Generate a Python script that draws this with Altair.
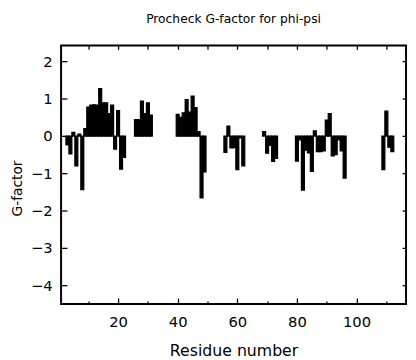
import altair as alt
import pandas as pd

residues = [3, 4, 5, 6, 7, 8, 9, 10, 11, 12, 13, 14, 15, 16, 17, 18, 19, 20, 21, 22,
            26, 27, 28, 29, 30, 31,
            40, 41, 42, 43, 44, 45, 46, 47, 48, 49,
            56, 57, 58, 59, 60, 61, 62,
            69, 70, 71, 72, 73,
            80, 81, 82, 83, 84, 85, 86, 87, 88, 89, 90, 91, 92, 93, 94, 95, 96,
            109, 110, 111, 112]
gfactor = [-0.24, -0.48, 0.10, -0.80, 0.05, -1.44, 0.20, 0.78, 0.83, 0.84, 0.83, 1.27, 0.89, 0.89, 0.60, 0.83, -0.35, 0.68, -0.89, -0.57,
           0.44, 0.44, 0.94, 0.60, 0.89, 0.56,
           0.58, 0.50, 0.62, 0.98, 0.64, 1.07, 0.76, 0.12, -1.66, -0.96,
           -0.44, 0.27, -0.32, -0.31, -0.90, -0.05, -0.80,
           0.12, -0.46, -0.25, -0.68, -0.60,
           -0.67, -0.10, -1.45, -0.38, -0.45, -0.95, 0.14, -0.42, -0.42, -0.40, 0.43, 0.60, -0.53, -0.50, -0.10, -0.40, -1.13,
           -0.90, 0.67, -0.30, -0.42]

x_labels = [20, 40, 60, 80, 100]
x_minor = [10, 30, 50, 70, 90, 110]
x_all = [10, 20, 30, 40, 50, 60, 70, 80, 90, 100, 110]
y_ticks = [-4, -3, -2, -1, 0, 1, 2]

df = pd.DataFrame({"residue": residues, "g": gfactor})

FONT = "DejaVu Sans"
xscale = alt.Scale(domain=[0.874, 116.6], nice=False, zero=False)
yscale = alt.Scale(domain=[-4.5, 2.43], nice=False, zero=False)

base = alt.Chart(df).transform_calculate(
    x0="datum.residue - 0.5", x1="datum.residue + 0.5", zero="0"
)

bars = base.mark_rect(color="black", stroke="black", strokeWidth=1.2).encode(
    x=alt.X("x0:Q", scale=xscale, axis=alt.Axis(
        orient="bottom",
        values=x_labels, ticks=False, tickSize=0, domain=False, grid=False,
        minExtent=0,
        labelFont=FONT, labelFontSize=15, labelColor="black", labelPadding=11,
        title="Residue number", titleFont=FONT, titleFontSize=16,
        titleFontWeight="normal", titleColor="black", titlePadding=14)),
    x2=alt.X2("x1:Q"),
    y=alt.Y("g:Q", scale=yscale, axis=alt.Axis(
        orient="left",
        values=y_ticks, ticks=False, tickSize=0, domain=False, grid=False,
        minExtent=0,
        labelFont=FONT, labelFontSize=15, labelColor="black", labelPadding=9,
        title="G-factor", titleFont=FONT, titleFontSize=14,
        titleFontWeight="normal", titleColor="black",
        titleX=-37, titleY=145, titleBaseline="bottom", titleAngle=270)),
    y2=alt.Y2("zero:Q"),
)


def ghost(xaxis, yaxis):
    return base.mark_point(opacity=0).encode(
        x=alt.X("residue:Q", scale=xscale, axis=xaxis),
        y=alt.Y("g:Q", scale=yscale, axis=yaxis),
    )


def tick_axis(orient, values, size):
    return alt.Axis(orient=orient, values=values, offset=-size, tickSize=size,
                    ticks=True, labels=False, domain=False, grid=False, title=None,
                    minExtent=0, tickColor="black", tickWidth=1.3)


major = ghost(tick_axis("bottom", x_labels, 6), tick_axis("left", y_ticks, 6))
mirror = ghost(tick_axis("top", x_all, 4), tick_axis("right", y_ticks, 4))
minor = ghost(tick_axis("bottom", x_minor, 3), None)

chart = alt.layer(major, mirror, minor, bars).resolve_axis(
    x="independent", y="independent"
).properties(
    width=351, height=263,
    autosize=alt.AutoSizeParams(type="none"),
    padding={"left": 54, "top": 35, "right": 2, "bottom": 54},
    title=alt.TitleParams("Procheck G-factor for phi-psi", font=FONT, fontSize=12.5,
                          fontWeight="normal", color="black", anchor="middle",
                          baseline="bottom", offset=20, dy=13),
).configure_view(stroke="black", strokeWidth=2)

chart.save("out.html", embed_options={"renderer": "svg", "actions": False})
